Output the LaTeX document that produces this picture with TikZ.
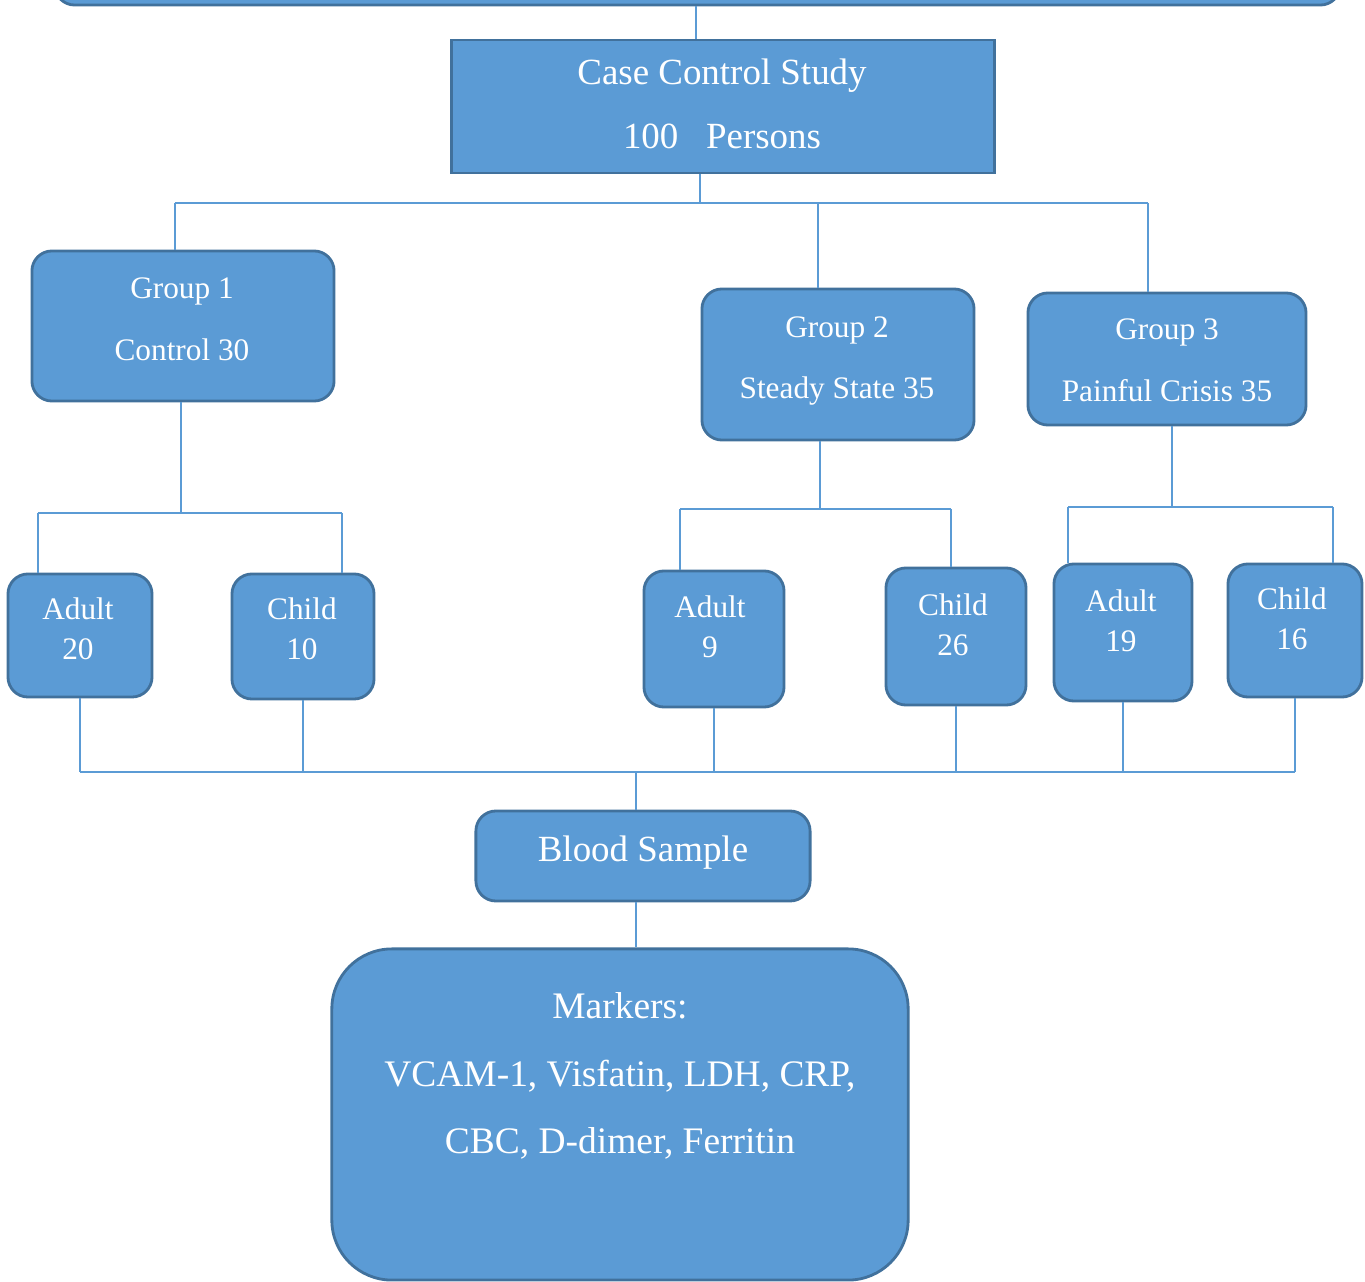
\documentclass[tikz,border=0pt]{standalone}
\usepackage{fontspec}
\setmainfont{Liberation Serif}
\usepackage{tikz}
\usetikzlibrary{calc,positioning}

\definecolor{boxfill}{HTML}{5B9BD5}
\definecolor{boxline}{HTML}{41719C}
\definecolor{connline}{HTML}{5B9BD5}

\tikzset{
  box/.style={draw=boxline, fill=boxfill, line width=0.8pt, rounded corners=0.2cm, inner sep=0pt},
  txt/.style={text=white, align=center, inner sep=0pt},
  big/.style={font=\fontsize{10.5}{18.2}\selectfont},
  mid/.style={font=\fontsize{8.9}{17.6}\selectfont},
  tiny/.style={font=\fontsize{8.9}{11.4}\selectfont},
  conn/.style={draw=connline, line width=0.45pt},
}

\begin{document}
\begin{tikzpicture}[x=0.01cm,y=-0.01cm]
    \useasboundingbox (0,0) rectangle (1365,1282);
    % boxes
    \node[box, minimum width=12.85cm, minimum height=1.2cm] (top) at (697.5,-55) {};
    \node[box, rounded corners=0pt, minimum width=5.42cm, minimum height=1.33cm] (case) at (723,106.5) {};
    \node[box, minimum width=3.02cm, minimum height=1.50cm] (g1) at (183,326) {};
    \node[box, minimum width=2.72cm, minimum height=1.51cm] (g2) at (838,364.5) {};
    \node[box, minimum width=2.78cm, minimum height=1.32cm] (g3) at (1167,359) {};
    \node[box, minimum width=1.44cm, minimum height=1.23cm] (a1) at (80,635.5) {};
    \node[box, minimum width=1.42cm, minimum height=1.25cm] (c1) at (303,636.5) {};
    \node[box, minimum width=1.40cm, minimum height=1.36cm] (a2) at (714,639) {};
    \node[box, minimum width=1.40cm, minimum height=1.37cm] (c2) at (956,636.5) {};
    \node[box, minimum width=1.38cm, minimum height=1.37cm] (a3) at (1123,632.5) {};
    \node[box, minimum width=1.34cm, minimum height=1.33cm] (c3) at (1295,630.5) {};
    \node[box, minimum width=3.34cm, minimum height=0.90cm] (blood) at (643,856) {};
    \node[box, rounded corners=0.6cm, minimum width=5.76cm, minimum height=3.31cm] (markers) at (620,1114.5) {};

    % texts
    \node[txt, big] (caset) at (722,104) {Case Control Study\\100\hspace{0.75em}Persons};
    \node[txt, mid] (g1t) at (182,319) {Group 1\\Control 30};
    \node[txt, mid] (g2t) at (837,361) {Group 2\\Steady State 35};
    \node[txt, mid] (g3t) at (1167,360) {Group 3\\Painful Crisis 35};
    \node[txt, tiny] (a1t) at (78,629) {Adult\\20};
    \node[txt, tiny] (c1t) at (302,629) {Child\\10};
    \node[txt, tiny] (a2t) at (710,627) {Adult\\9};
    \node[txt, tiny] (c2t) at (953,625) {Child\\26};
    \node[txt, tiny] (a3t) at (1121,621) {Adult\\19};
    \node[txt, tiny] (c3t) at (1292,619) {Child\\16};
    \node[txt, big] (bloodt) at (643,853) {Blood Sample};
    \node[txt, font=\fontsize{10.65}{19.3}\selectfont] (markt) at (620,1076)
        {Markers:\\VCAM-1, Visfatin, LDH, CRP,\\CBC, D-dimer, Ferritin};

    % junctions
    \coordinate (j0) at (696,0);
    \coordinate (j1) at (700,203);
    \coordinate (j1l) at (175,203);
    \coordinate (j1m) at (818,203);
    \coordinate (j1r) at (1148,203);
    \coordinate (j2) at (181,513);
    \coordinate (j2l) at (38,513);
    \coordinate (j2r) at (342,513);
    \coordinate (j3) at (820,509);
    \coordinate (j3l) at (680,509);
    \coordinate (j3r) at (951,509);
    \coordinate (j4) at (1172,507);
    \coordinate (j4l) at (1068,507);
    \coordinate (j4r) at (1333,507);
    \coordinate (k) at (636,772);

    % connectors
    \draw[conn] (top.south -| j0) -- (case.north -| j0);
    \draw[conn] (case.south -| j1) -- (j1);
    \draw[conn] (j1l) -- (j1r);
    \draw[conn] (j1l) -- (g1.north -| j1l);
    \draw[conn] (j1m) -- (g2.north -| j1m);
    \draw[conn] (j1r) -- (g3.north -| j1r);
    \draw[conn] (g1.south -| j2) -- (j2);
    \draw[conn] (j2l) -- (j2r);
    \draw[conn] (j2l) -- (a1.north -| j2l);
    \draw[conn] (j2r) -- (c1.north -| j2r);
    \draw[conn] (g2.south -| j3) -- (j3);
    \draw[conn] (j3l) -- (j3r);
    \draw[conn] (j3l) -- (a2.north -| j3l);
    \draw[conn] (j3r) -- (c2.north -| j3r);
    \draw[conn] (g3.south -| j4) -- (j4);
    \draw[conn] (j4l) -- (j4r);
    \draw[conn] (j4l) -- (a3.north -| j4l);
    \draw[conn] (j4r) -- (c3.north -| j4r);
    \foreach \n in {a1,c1,a2,c2,a3,c3}
        \draw[conn] (\n.south) -- (\n.south |- k);
    \draw[conn] (a1.south |- k) -- (c3.south |- k);
    \draw[conn] (k) -- (blood.north -| k);
    \draw[conn] (blood.south -| k) -- (markers.north -| k);
\end{tikzpicture}
\end{document}
